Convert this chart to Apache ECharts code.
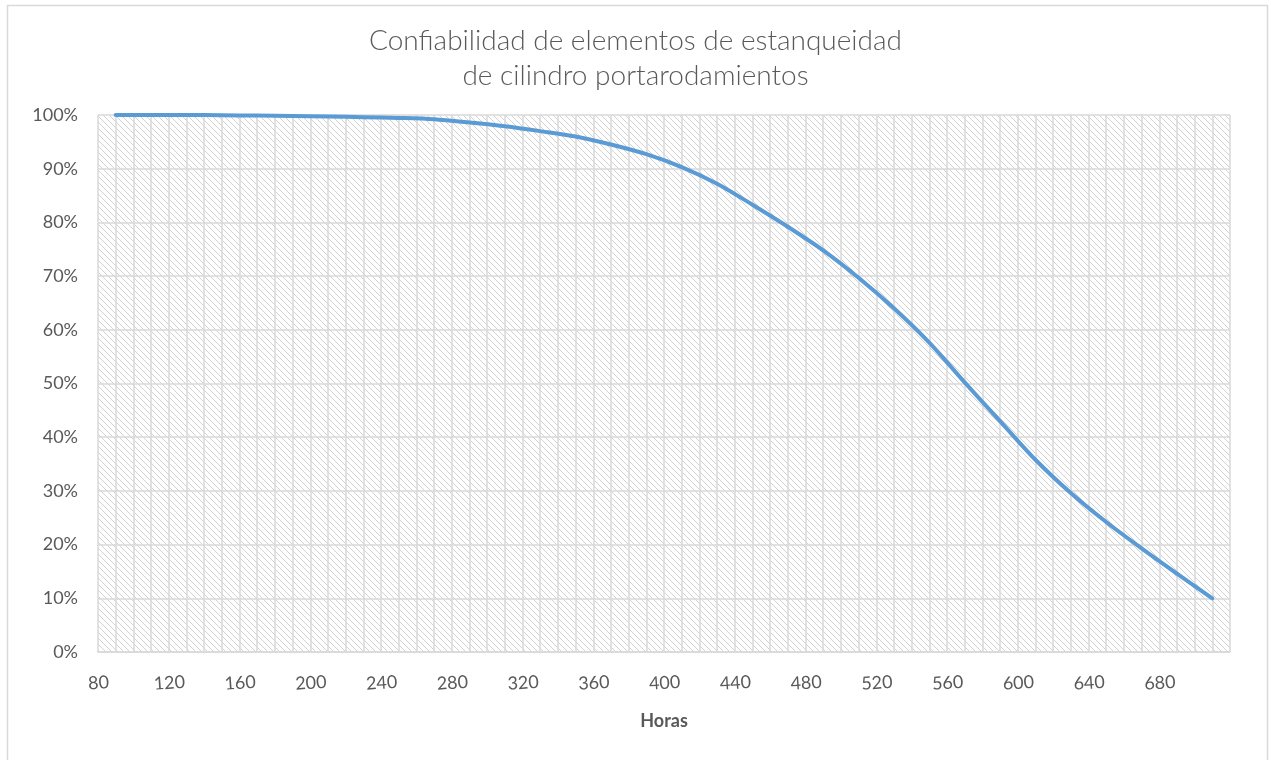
<!DOCTYPE html>
<html>
<head>
<meta charset="utf-8">
<script src="https://cdn.jsdelivr.net/npm/echarts@6/dist/echarts.min.js"></script>
<style>
  html, body { margin: 0; padding: 0; background: #ffffff; }
  #chart { width: 1271px; height: 760px; }
</style>
</head>
<body>
<div id="chart"></div>
<script>
// Operating hours and measured reliability (%) of the sealing elements
const hours = [90, 110, 130, 150, 170, 190, 210, 230, 250, 270, 290, 310, 330, 350, 370, 390,
               410, 430, 450, 470, 490, 510, 530, 550, 570, 590, 610, 630, 650, 670, 690, 710];
const reliability = [100, 100, 100, 99.95, 99.9, 99.8, 99.7, 99.6, 99.45, 99.2, 98.6, 97.9, 97.0, 96.0, 94.5, 92.7,
                     90.3, 87.2, 83.3, 79.2, 74.8, 69.7, 64.0, 57.6, 50.2, 43.0, 35.8, 29.6, 24.2, 19.3, 14.6, 10.0];

const titleLines = ['Confiabilidad de elementos de estanqueidad', 'de cilindro portarodamientos'];
const xAxisName = 'Horas';
const xRange = [80, 720];
const xStep = 40;
const yRange = [0, 100];
const yStep = 10;

const FONT = 'Lato, "Open Sans", sans-serif';
const TEXT = '#595959';
const GRID = '#d9d9d9';

// Diagonal hatch used as the plot-area fill
function hatchPattern() {
  const c = document.createElement('canvas');
  c.width = 6; c.height = 6;
  const g = c.getContext('2d');
  g.fillStyle = '#ffffff';
  g.fillRect(0, 0, 6, 6);
  g.strokeStyle = '#d2d2d2';
  g.lineWidth = 1;
  for (const o of [-6, 0, 6]) {
    g.beginPath();
    g.moveTo(o, 0);
    g.lineTo(o + 6, 6);
    g.stroke();
  }
  return { image: c, repeat: 'repeat' };
}

const chart = echarts.init(document.getElementById('chart'), null, { renderer: 'canvas' });

chart.setOption({
  backgroundColor: '#ffffff',
  animation: false,
  title: {
    text: titleLines.join('\n'),
    left: 'center',
    top: 18,
    textStyle: { fontFamily: FONT, fontSize: 28, fontWeight: 300, color: TEXT, lineHeight: 35 }
  },
  graphic: [{
    type: 'rect',
    shape: { x: 7.5, y: 5.5, width: 1260, height: 800 },
    style: { fill: 'none', stroke: GRID, lineWidth: 1.5 },
    silent: true
  }],
  grid: {
    left: 98, right: 41, top: 115, bottom: 108,
    show: true,
    backgroundColor: hatchPattern(),
    borderWidth: 0
  },
  xAxis: {
    type: 'value',
    min: xRange[0], max: xRange[1], interval: xStep,
    name: xAxisName,
    nameLocation: 'middle',
    nameGap: 60,
    nameTextStyle: { fontFamily: FONT, fontSize: 18, fontWeight: 'bold', color: TEXT },
    axisLine: { show: true, lineStyle: { color: GRID, width: 1.5 } },
    axisTick: { show: false },
    minorTick: { show: false, splitNumber: 4 },
    axisLabel: {
      showMaxLabel: false,
      margin: 22,
      rotate: 4,
      align: 'center',
      verticalAlign: 'top',
      fontFamily: FONT, fontSize: 18, color: TEXT
    },
    splitLine: { show: true, lineStyle: { color: GRID, width: 1.5 } },
    minorSplitLine: { show: true, lineStyle: { color: GRID, width: 1.5 } }
  },
  yAxis: {
    type: 'value',
    min: yRange[0], max: yRange[1], interval: yStep,
    axisLine: { show: false },
    axisTick: { show: false },
    axisLabel: {
      margin: 20,
      formatter: v => v + '%',
      fontFamily: FONT, fontSize: 18, color: TEXT
    },
    splitLine: { show: true, lineStyle: { color: GRID, width: 1.5 } }
  },
  series: [{
    type: 'line',
    data: hours.map((h, i) => [h, reliability[i]]),
    showSymbol: false,
    smooth: 0.3,
    lineStyle: { color: '#5b9bd5', width: 4, cap: 'round', join: 'round' },
    itemStyle: { color: '#5b9bd5' },
    z: 5
  }]
});
</script>
</body>
</html>
